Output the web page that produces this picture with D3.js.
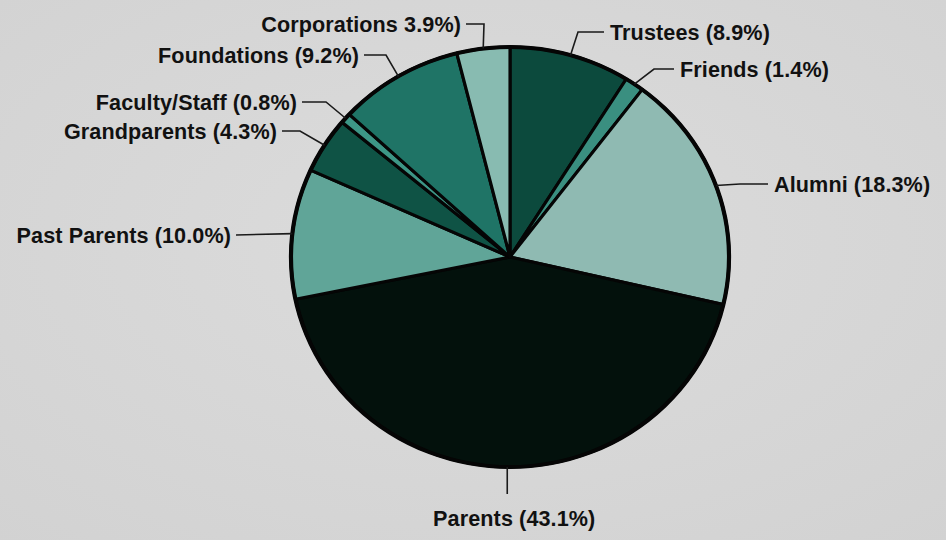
<!DOCTYPE html>
<html>
<head>
<meta charset="utf-8">
<script src="https://cdn.jsdelivr.net/npm/d3@7"></script>
<style>
  html, body { margin: 0; padding: 0; background: #d8d8d8; }
  svg { display: block; }
  .lbl { font-family: "Liberation Sans", Arial, sans-serif; font-weight: bold; font-size: 21.6px; letter-spacing: 0.1px; fill: #111; }
</style>
</head>
<body>
<svg id="chart" width="946" height="540"></svg>
<script>
// ---- data ----
const categories = ["Trustees", "Friends", "Alumni", "Parents", "Past Parents", "Grandparents", "Faculty/Staff", "Foundations", "Corporations"];
const values = [8.9, 1.4, 18.3, 43.1, 10.0, 4.3, 0.8, 9.2, 3.9];
const labels = ["Trustees (8.9%)", "Friends (1.4%)", "Alumni (18.3%)", "Parents (43.1%)", "Past Parents (10.0%)", "Grandparents (4.3%)", "Faculty/Staff (0.8%)", "Foundations (9.2%)", "Corporations 3.9%)"];
const colors = ["#0c4a3d", "#3a8f80", "#8fbab2", "#03110c", "#60a598", "#0f5345", "#3d9686", "#1f7466", "#88bbb1"];

// ---- layout (annotation placement, not data) ----
const W = 946, H = 540;
const cx = 510, cy = 257, r = 210, sx = 1.043;
// elbow point + label anchor for each slice's leader line
const labelLayout = [
  { elbow: [578, 32], end: [604, 32], anchor: "start" },
  { elbow: [654, 69], end: [674, 69], anchor: "start" },
  { elbow: [740, 184], end: [768, 184], anchor: "start" },
  { elbow: null, end: [510, 494], anchor: "middle", below: true },
  { elbow: null, end: [236, 235], anchor: "end" },
  { elbow: [300, 131], end: [282, 131], anchor: "end" },
  { elbow: [326, 102], end: [302, 102], anchor: "end" },
  { elbow: [386, 55], end: [364, 55], anchor: "end" },
  { elbow: [484, 24], end: [466, 24], anchor: "end" }
];

const svg = d3.select("#chart");

// background with slight vignette
const defs = svg.append("defs");
const grad = defs.append("radialGradient").attr("id", "bg").attr("cx", "50%").attr("cy", "45%").attr("r", "75%");
grad.append("stop").attr("offset", "0%").attr("stop-color", "#dcdcdc");
grad.append("stop").attr("offset", "100%").attr("stop-color", "#d2d2d2");
svg.append("rect").attr("width", W).attr("height", H).attr("fill", "url(#bg)");

const data = categories.map((c, i) => ({ cat: c, value: values[i], label: labels[i], color: colors[i], layout: labelLayout[i] }));

const pie = d3.pie().value(d => d.value).sort(null).startAngle(0).endAngle(2 * Math.PI);
const arcs = pie(data);
const arc = d3.arc().innerRadius(0).outerRadius(r);

const g = svg.append("g").attr("transform", `translate(${cx},${cy}) scale(${sx},1)`);
g.selectAll("path.slice")
  .data(arcs)
  .enter().append("path")
  .attr("class", "slice")
  .attr("d", arc)
  .attr("fill", d => d.data.color)
  .attr("stroke", "#050505")
  .attr("stroke-width", 3)
  .attr("stroke-linejoin", "round");

g.append("circle").attr("r", r).attr("fill", "none").attr("stroke", "#050505").attr("stroke-width", 4);

// leader lines and labels
const lx = d3.scaleLinear().domain([-r, r]).range([cx - r * sx, cx + r * sx]);
const ly = d3.scaleLinear().domain([-r, r]).range([cy - r, cy + r]);

arcs.forEach(a => {
  const mid = (a.startAngle + a.endAngle) / 2;
  const px = lx(r * Math.sin(mid));
  const py = ly(-r * Math.cos(mid));
  const L = a.data.layout;
  const pts = [[px, py]];
  if (L.elbow) pts.push(L.elbow);
  if (L.below) pts.push([px, L.end[1]]); else pts.push(L.end);
  svg.append("path")
    .attr("d", d3.line()(pts))
    .attr("fill", "none")
    .attr("stroke", "#1a1a1a")
    .attr("stroke-width", 1.6);
  let tx, ty;
  if (L.below) { tx = px + 7; ty = L.end[1] + 24; }
  else if (L.anchor === "start") { tx = L.end[0] + 6; ty = L.end[1]; }
  else { tx = L.end[0] - 5; ty = L.end[1]; }
  svg.append("text")
    .attr("class", "lbl")
    .attr("x", tx)
    .attr("y", ty)
    .attr("text-anchor", L.anchor)
    .attr("dominant-baseline", "central")
    .text(a.data.label);
});
</script>
</body>
</html>
